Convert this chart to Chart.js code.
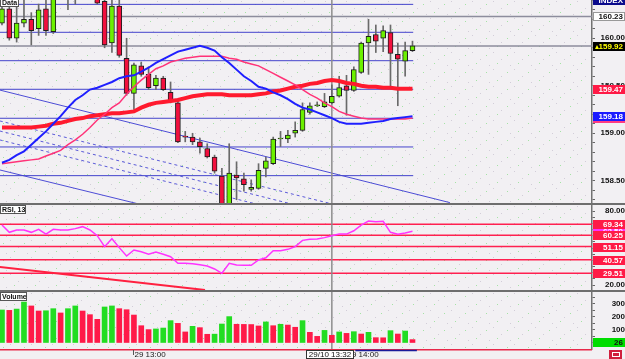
<!DOCTYPE html>
<html>
<head>
<meta charset="utf-8">
<script src="https://cdn.jsdelivr.net/npm/chart.js@4.4.1/dist/chart.umd.min.js"></script>
<style>
  body { margin: 0; background: #f2f0f3; width: 625px; height: 359px; overflow: hidden; position: relative; }
  canvas { position: absolute; left: 0; }
  #main { top: 0; }
  #rsi { top: 205px; }
  #vol { top: 292px; }
  .sep { position: absolute; left: 0; width: 625px; height: 2px; background: #6e6e6e; }
</style>
</head>
<body>
<canvas id="main" width="625" height="203"></canvas>
<div class="sep" style="top:203px"></div>
<canvas id="rsi" width="625" height="85"></canvas>
<div class="sep" style="top:290px"></div>
<canvas id="vol" width="625" height="67"></canvas>
<script>
Chart.defaults.font.family = "'Liberation Sans', Arial, sans-serif";
Chart.defaults.animation = false;

// candles
const opens = [160.16,160.31,160.00,160.16,160.20,160.10,160.31,160.07,160.45,160.50,
  160.44,160.52,160.60,160.50,160.39,159.95,160.34,159.79,159.42,159.71,
  159.62,159.50,159.58,159.43,159.32,158.97,158.96,158.91,158.84,158.75,
  158.55,158.22,158.56,158.52,158.41,158.42,158.63,158.68,158.94,158.94,
  159.00,159.03,159.22,159.29,159.28,159.32,159.39,159.50,159.45,159.64,
  159.95,160.04,160.00,160.06,159.83,159.76,159.87];
const closes = [160.31,160.00,160.16,160.20,160.08,160.30,160.08,160.42,160.55,160.44,
  160.52,160.60,160.50,160.37,159.93,160.34,159.82,159.42,159.72,159.62,
  159.48,159.58,159.46,159.33,158.91,158.96,158.91,158.86,158.75,158.60,
  158.20,158.58,158.53,158.46,158.43,158.61,158.71,158.94,158.95,158.98,
  159.03,159.25,159.29,159.30,159.33,159.39,159.48,159.45,159.67,159.95,
  160.02,159.97,160.08,159.84,159.78,159.87,159.92];
const highs = [160.45,160.35,160.45,160.45,160.27,160.36,160.40,160.50,160.60,160.58,
  160.60,160.65,160.66,160.55,160.45,160.45,160.42,160.00,159.74,159.75,
  159.70,159.61,159.60,159.54,159.36,159.02,159.00,158.95,158.89,158.77,
  158.63,158.89,158.70,158.58,158.51,158.68,158.75,158.96,159.02,159.03,
  159.12,159.32,159.32,159.33,159.42,159.51,159.60,159.61,159.70,159.96,
  160.20,160.14,160.13,160.14,159.95,159.96,159.97];
const lows = [160.14,159.98,159.96,160.12,159.93,160.03,160.03,160.05,160.42,160.30,
  160.36,160.45,160.44,160.36,159.90,159.85,159.80,159.40,159.25,159.60,
  159.46,159.46,159.45,159.32,158.90,158.91,158.88,158.79,158.74,158.58,
  158.15,158.15,158.30,158.39,158.39,158.41,158.54,158.67,158.86,158.90,
  158.96,159.02,159.20,159.28,159.27,159.31,159.38,159.19,159.44,159.63,
  159.62,159.85,159.86,159.47,159.29,159.60,159.86];

// moving averages
const maFast = [158.69,158.72,158.77,158.81,158.88,158.95,159.02,159.10,159.18,159.27,
  159.35,159.40,159.46,159.48,159.51,159.54,159.58,159.60,159.61,159.65,
  159.69,159.74,159.78,159.82,159.86,159.88,159.90,159.92,159.90,159.87,
  159.80,159.74,159.67,159.60,159.55,159.49,159.47,159.43,159.40,159.36,
  159.31,159.27,159.25,159.22,159.19,159.16,159.12,159.10,159.10,159.10,
  159.11,159.12,159.13,159.15,159.16,159.17,159.18];
const maMid = [158.68,158.69,158.70,158.71,158.72,158.73,158.76,158.79,158.82,158.88,
  158.93,158.99,159.06,159.14,159.20,159.27,159.32,159.41,159.49,159.56,
  159.62,159.68,159.71,159.75,159.77,159.79,159.80,159.81,159.81,159.81,
  159.81,159.79,159.78,159.75,159.73,159.71,159.67,159.63,159.59,159.55,
  159.51,159.46,159.41,159.37,159.32,159.28,159.23,159.20,159.18,159.16,
  159.15,159.15,159.15,159.15,159.15,159.15,159.16];
const maSlow = [159.06,159.06,159.06,159.06,159.06,159.07,159.08,159.10,159.11,159.13,
  159.15,159.16,159.18,159.19,159.20,159.21,159.21,159.22,159.23,159.27,
  159.30,159.32,159.33,159.34,159.35,159.37,159.39,159.40,159.41,159.41,
  159.41,159.40,159.40,159.40,159.40,159.41,159.42,159.44,159.45,159.47,
  159.49,159.50,159.52,159.53,159.55,159.56,159.55,159.53,159.52,159.50,
  159.49,159.49,159.48,159.48,159.47,159.47,159.47];

// drawn objects on the price panel
const levels = [160.357, 160.063, 159.764, 159.463, 159.158, 158.856, 158.554];
const markLines = [160.23, 159.92];
const trendLines = [[-0.3, 159.455, 61.1, 158.27], [-0.3, 158.614, 21.6, 158.20]];
const dashedLines = [[-0.3, 159.13, 54.3, 158.077], [-0.3, 159.024, 54.3, 157.97], [-0.3, 158.93, 54.3, 157.877]];
const crossBar = 45;

// RSI(13)
const rsi = [68.6,62.7,64.6,64.6,62.7,65.1,61.3,65.1,64.6,64.6,
  65.7,67.3,64.6,60.0,51.1,57.5,50.3,43.5,48.4,47.0,
  44.9,46.7,44.9,42.9,37.6,37.6,37.3,36.5,35.4,33.0,
  29.5,37.6,36.2,36.0,36.0,40.3,42.1,47.8,47.8,48.9,
  51.1,56.2,57.0,57.3,58.4,60.0,61.3,61.3,64.0,68.6,
  71.9,71.3,71.6,62.7,61.1,62.2,63.5];
const rsiLevels = [69.34, 60.25, 51.15, 40.57, 29.51];
const rsiTrend = [-0.3, 34.6, 27.7, 15.95];

// volume
const volumes = [254,251,261,315,285,246,248,264,231,264,
  285,246,218,182,277,285,264,256,215,133,
  103,108,115,172,151,85,128,118,67,68,
  146,203,144,143,142,131,162,133,144,138,
  121,172,82,51,97,59,85,74,87,69,
  82,41,40,95,69,92,26];

const timeTicks = [18, 47];
const timeText = ['29 13:00', '29 14:00'];
const crossText = '29/10 13:32';

const GREEN = '#6cf000', RED = '#f2103e';
const n = closes.length;

function seg(x0, y0, x1, y1) { return [{ x: x0, y: y0 }, { x: x1, y: y1 }]; }
function lineDs(data, color, width, order, dash) {
  return { type: 'line', data, borderColor: color, borderWidth: width, pointRadius: 0,
    fill: false, tension: 0, order, borderDash: dash || [] };
}
function series(arr) { return arr.map((v, i) => ({ x: i, y: v })); }

const xScale = { type: 'linear', min: -0.27, max: 80.49, offset: false, display: false, grid: { offset: false } };
function yAxis(min, max, step, show, pad) {
  return {
    position: 'right', min, max,
    afterFit: s => { s.width = 33; s.paddingTop = 0; s.paddingBottom = 0; },
    border: { color: '#727272', width: 1.5 },
    grid: { drawOnChartArea: false, tickLength: 3, tickColor: '#666' },
    ticks: { stepSize: step, includeBounds: false, maxTicksLimit: 200, autoSkip: false,
      padding: pad, crossAlign: 'far', color: '#111', font: { size: 8, weight: 'bold' },
      callback: v => show(v) }
  };
}
const near = (a, b) => Math.abs(a - b) < 1e-6;

// background dots
const dotTile = document.createElement('canvas');
dotTile.width = 21; dotTile.height = 17;
{
  const g = dotTile.getContext('2d');
  g.fillStyle = '#a5e3a5'; g.fillRect(3, 4, 1, 1); g.fillRect(14, 12, 1, 1);
  g.fillStyle = '#d2cdd8'; g.fillRect(10, 1, 1, 1); g.fillRect(18, 8, 1, 1); g.fillRect(6, 14, 1, 1);
}
const backdrop = {
  id: 'backdrop',
  beforeDraw(chart) {
    const { ctx, chartArea: a } = chart;
    ctx.save();
    ctx.fillStyle = ctx.createPattern(dotTile, 'repeat');
    ctx.fillRect(a.left, a.top, a.right - a.left, a.bottom - a.top);
    ctx.restore();
  }
};

function tagBox(ctx, y, text, bg, fg, border) {
  const yy = Math.round(y);
  ctx.fillStyle = bg;
  ctx.fillRect(593, yy - 4, 32, 9);
  if (border) { ctx.strokeStyle = border; ctx.lineWidth = 1; ctx.strokeRect(593.5, yy - 3.5, 31, 8); }
  ctx.fillStyle = fg;
  ctx.font = "bold 8px 'Liberation Sans'";
  ctx.textAlign = 'right'; ctx.textBaseline = 'middle';
  ctx.fillText(text, 623, yy + 1);
}
function titleBox(ctx, text, w, top) {
  ctx.fillStyle = '#fff';
  ctx.fillRect(0, top, w, 9);
  ctx.strokeStyle = '#555'; ctx.lineWidth = 1;
  ctx.strokeRect(0.5, top + 0.5, w - 1, 8);
  ctx.fillStyle = '#111';
  ctx.font = "bold 7px 'Liberation Sans'";
  ctx.textAlign = 'left'; ctx.textBaseline = 'alphabetic';
  ctx.fillText(text, 2, top + 7);
}

const mainTags = {
  id: 'mainTags',
  afterDraw(chart) {
    const { ctx, scales: { y } } = chart;
    ctx.save();
    titleBox(ctx, 'Data', 19, -2);
    tagBox(ctx, 0, 'INDEX', '#0b0b8c', '#fff');
    tagBox(ctx, y.getPixelForValue(markLines[0]), markLines[0].toFixed(2), '#fff', '#111', '#999');
    tagBox(ctx, y.getPixelForValue(maMid[n - 1]), maMid[n - 1].toFixed(2), '#ff3c82', '#fff');
    tagBox(ctx, y.getPixelForValue(maFast[n - 1]), maFast[n - 1].toFixed(2), '#1a1aff', '#fff');
    tagBox(ctx, y.getPixelForValue(maSlow[n - 1]), maSlow[n - 1].toFixed(2), '#ff1a46', '#fff');
    const by = Math.round(y.getPixelForValue(closes[n - 1]));
    tagBox(ctx, by, closes[n - 1].toFixed(2), '#000', '#ffff00');
    ctx.fillStyle = '#ffff00';
    ctx.beginPath(); ctx.moveTo(595, by + 3); ctx.lineTo(599, by + 3); ctx.lineTo(597, by - 1); ctx.fill();
    ctx.restore();
  }
};

new Chart(document.getElementById('main'), {
  type: 'bar',
  data: {
    datasets: [
      ...levels.map(v => lineDs(seg(-0.3, v, 56.1, v), '#4444cc', 1, 9)),
      ...markLines.map(v => lineDs(seg(-1, v, 82, v), '#8d8d9d', 1.5, 9)),
      ...trendLines.map(t => lineDs(seg(...t), '#4d4dd6', 1, 9)),
      ...dashedLines.map(t => lineDs(seg(...t), '#5a5ad8', 1, 9, [3, 3])),
      lineDs(seg(crossBar, 150, crossBar, 170), '#8d8d8d', 1.5, 8),
      { type: 'bar', data: highs.map((h, i) => ({ x: i, y: [lows[i], h] })),
        backgroundColor: '#6a6a6a', barThickness: 1, grouped: false, order: 4 },
      { type: 'bar', data: opens.map((o, i) => ({ x: i, y: [o, closes[i]] })),
        backgroundColor: opens.map((o, i) => closes[i] >= o ? GREEN : RED),
        borderColor: '#1e1e1e', borderWidth: 1, borderSkipped: false,
        barThickness: 5, grouped: false, order: 3 },
      lineDs(series(maSlow), '#ff1a2e', 4, 2),
      lineDs(series(maMid), '#ff3378', 1.5, 1.5),
      lineDs(series(maFast), '#1f1fff', 2, 1)
    ]
  },
  options: {
    responsive: false, events: [],
    layout: { padding: 0, autoPadding: false },
    plugins: { legend: { display: false }, tooltip: { enabled: false } },
    scales: {
      x: xScale,
      y: yAxis(158.266, 160.403, 0.1, v => near(v * 2, Math.round(v * 2)) ? v.toFixed(2) : '', 1.5)
    }
  },
  plugins: [backdrop, mainTags]
});

const rsiTags = {
  id: 'rsiTags',
  afterDraw(chart) {
    const { ctx, scales: { y } } = chart;
    ctx.save();
    titleBox(ctx, 'RSI, 13', 26, 0);
    tagBox(ctx, y.getPixelForValue(rsi[n - 1]), rsi[n - 1].toFixed(2), '#ff30ff', '#fff');
    rsiLevels.forEach(v => tagBox(ctx, y.getPixelForValue(v), v.toFixed(2), '#ff1a46', '#fff'));
    ctx.restore();
  }
};

new Chart(document.getElementById('rsi'), {
  type: 'line',
  data: {
    datasets: [
      ...rsiLevels.map(v => lineDs(seg(-1, v, 82, v), '#ff2050', 1.5, 5)),
      lineDs(seg(...rsiTrend), '#ff2040', 2, 4),
      lineDs(seg(crossBar, 0, crossBar, 100), '#8d8d8d', 1.5, 4),
      lineDs(series(rsi), '#ff33ff', 1.5, 1)
    ]
  },
  options: {
    responsive: false, events: [],
    layout: { padding: 0, autoPadding: false },
    plugins: { legend: { display: false }, tooltip: { enabled: false } },
    scales: {
      x: xScale,
      y: yAxis(15.946, 84.865, 5, v => (near(v, 80) || near(v, 20)) ? v.toFixed(2) : '', 6)
    }
  },
  plugins: [backdrop, rsiTags]
});

const volTags = {
  id: 'volTags',
  afterDraw(chart) {
    const { ctx, chartArea: a, scales: { x, y } } = chart;
    ctx.save();
    titleBox(ctx, 'Volume', 27, 0);
    tagBox(ctx, y.getPixelForValue(volumes[n - 1]) + 2, String(volumes[n - 1]), '#00dd00', '#111');
    // bottom rule
    ctx.strokeStyle = '#e8284a'; ctx.lineWidth = 1.5;
    ctx.beginPath(); ctx.moveTo(0, a.bottom + 0.75); ctx.lineTo(a.right, a.bottom + 0.75); ctx.stroke();
    ctx.strokeStyle = '#1a1a9a';
    ctx.beginPath(); ctx.moveTo(x.getPixelForValue(48.2), a.bottom + 1.5); ctx.lineTo(x.getPixelForValue(56.6), a.bottom + 1.5); ctx.stroke();
    // time labels
    ctx.font = "8px 'Liberation Sans'";
    ctx.textBaseline = 'middle'; ctx.textAlign = 'left';
    ctx.strokeStyle = '#555'; ctx.lineWidth = 1;
    timeTicks.forEach((b, i) => {
      const px = Math.round(x.getPixelForValue(b)) - 0.5;
      ctx.beginPath(); ctx.moveTo(px, a.bottom + 1); ctx.lineTo(px, a.bottom + 6); ctx.stroke();
      ctx.fillStyle = '#1a1a1a';
      ctx.fillText(timeText[i], px + 1, a.bottom + 6);
    });
    // crosshair label
    const cx = x.getPixelForValue(crossBar);
    const w = Math.round(ctx.measureText(crossText).width + 6);
    const bx = Math.round(cx - w / 2) - 2;
    ctx.fillStyle = '#fff';
    ctx.fillRect(bx, a.bottom + 1, w, 9);
    ctx.strokeStyle = '#333';
    ctx.strokeRect(bx + 0.5, a.bottom + 1.5, w - 1, 8);
    ctx.fillStyle = '#111'; ctx.textAlign = 'center';
    ctx.fillText(crossText, bx + w / 2, a.bottom + 6);
    // corner icon
    ctx.fillStyle = '#d0203e';
    ctx.fillRect(609, a.bottom + 1, 13, 9);
    ctx.strokeStyle = '#fff';
    ctx.strokeRect(612.5, a.bottom + 3.5, 7, 4);
    ctx.restore();
  }
};

new Chart(document.getElementById('vol'), {
  type: 'bar',
  data: {
    datasets: [
      lineDs(seg(crossBar, -100, crossBar, 500), '#8d8d8d', 1.5, 4),
      { type: 'bar', data: series(volumes),
        backgroundColor: volumes.map((v, i) => (i === 0 || v > volumes[i - 1]) ? '#22dd22' : '#ff1a48'),
        barThickness: 5, grouped: false, order: 1 }
    ]
  },
  options: {
    responsive: false, events: [],
    layout: { padding: { bottom: 10 }, autoPadding: false },
    plugins: { legend: { display: false }, tooltip: { enabled: false } },
    scales: {
      x: xScale,
      y: yAxis(-46.2, 392.3, 50, v => (v > 0 && near(v % 100, 0)) ? String(v) : '', 7.5)
    }
  },
  plugins: [backdrop, volTags]
});
</script>
</body>
</html>
